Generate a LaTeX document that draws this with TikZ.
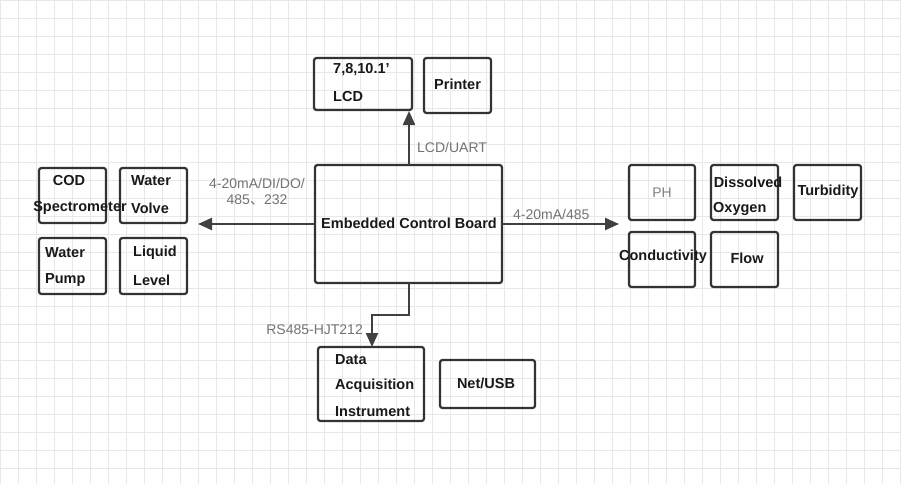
\documentclass[tikz,border=0pt]{standalone}
\usepackage{fontspec}
\setmainfont{Liberation Sans}
\newfontfamily\cjk{Noto Sans CJK SC}
\usetikzlibrary{arrows.meta}
\begin{document}
\begin{tikzpicture}[x=1pt,y=-1pt,
  bx/.style={draw=black!80,line width=2.2pt,rounded corners=2.5pt},
  tx/.style={font=\fontsize{14.5}{17}\selectfont\bfseries,text=black!90,inner sep=0pt},
  lb/.style={font=\fontsize{14}{16}\selectfont,text=black!55,inner sep=0pt,align=center},
  ar/.style={draw=black!75,line width=2.2pt,-{Triangle[length=14pt,width=12pt]}}]
\useasboundingbox (0,0) rectangle (901,484);
\fill[white] (0,0) rectangle (901,484);
\foreach \i in {0,...,50} \draw[black!9,line width=0.7pt] (\i*18,0) -- (\i*18,484);
\foreach \i in {0,...,27} \draw[black!9,line width=0.7pt] (0,\i*18) -- (901,\i*18);
% boxes
\draw[bx] (314,58) rectangle (412,110);
\coordinate (lcd) at (409,111);
\draw[bx] (424,58) rectangle (491,113);
\draw[bx] (315,165) rectangle (502,283);
\draw[bx] (39,168) rectangle (106,223);
\draw[bx] (120,168) rectangle (187,223);
\draw[bx] (39,238) rectangle (106,294);
\draw[bx] (120,238) rectangle (187,294);
\draw[bx] (318,347) rectangle (424,421);
\draw[bx] (440,360) rectangle (535,408);
\draw[bx] (629,165) rectangle (695,220);
\draw[bx] (711,165) rectangle (778,220);
\draw[bx] (794,165) rectangle (861,220);
\draw[bx] (629,232) rectangle (695,287);
\draw[bx] (711,232) rectangle (778,287);
% texts
\node[tx,anchor=west] (t1) at (333,70) {7,8,10.1’};
\node[tx,anchor=west] (t2) at (333,97) {LCD};
\node[tx,anchor=west] (t3) at (434,84) {Printer};
\node[tx] (board) at (409,223) {Embedded Control Board};
\node[tx] (t4) at (69,181) {COD};
\node[tx] (t5) at (80,208) {Spectrometer};
\node[tx,anchor=west] (t6) at (131,181) {Water};
\node[tx,anchor=west] (t7) at (131,208) {Volve};
\node[tx,anchor=west] (t8) at (45,253) {Water};
\node[tx,anchor=west] (t9) at (45,280) {Pump};
\node[tx,anchor=west] (t10) at (133,253) {Liquid};
\node[tx,anchor=west] (t11) at (133,280) {Level};
\node[tx,anchor=west] (t12) at (335,360) {Data};
\node[tx,anchor=west] (t13) at (335,386) {Acquisition};
\node[tx,anchor=west] (t14) at (335,412) {Instrument};
\node[tx] (t15) at (486,383) {Net/USB};
\node[font=\fontsize{14}{16}\selectfont,text=black!50,inner sep=0pt] (t16) at (662,193) {PH};
\node[tx] (t17) at (748,182) {Dissolved};
\node[tx,anchor=west] (t18) at (713,209) {Oxygen};
\node[tx] (t19) at (828,192) {Turbidity};
\node[tx] (t20) at (663,257) {Conductivity};
\node[tx] (t21) at (747,258) {Flow};
% connectors
\coordinate (up0) at (409,165);
\coordinate (lt0) at (315,224);
\coordinate (lt1) at (198,224);
\coordinate (rt0) at (502,224);
\coordinate (rt1) at (619,224);
\coordinate (dn0) at (409,283);
\coordinate (dn1) at (372,347);
\draw[ar] (up0) -- (lcd);
\draw[ar] (lt0) -- (lt1);
\draw[ar] (rt0) -- (rt1);
\draw[ar] (dn0) |- (372,315) -- (dn1);
\node[lb,anchor=west] (l1) at (417,147) {LCD/UART};
\node[lb] (l2) at (257,192) {4-20mA/DI/DO/\\485{\cjk 、}232};
\node[lb,anchor=west] (l3) at (513,214) {4-20mA/485};
\node[lb,anchor=east] (l4) at (363,330) {RS485-HJT212};
\end{tikzpicture}
\end{document}
